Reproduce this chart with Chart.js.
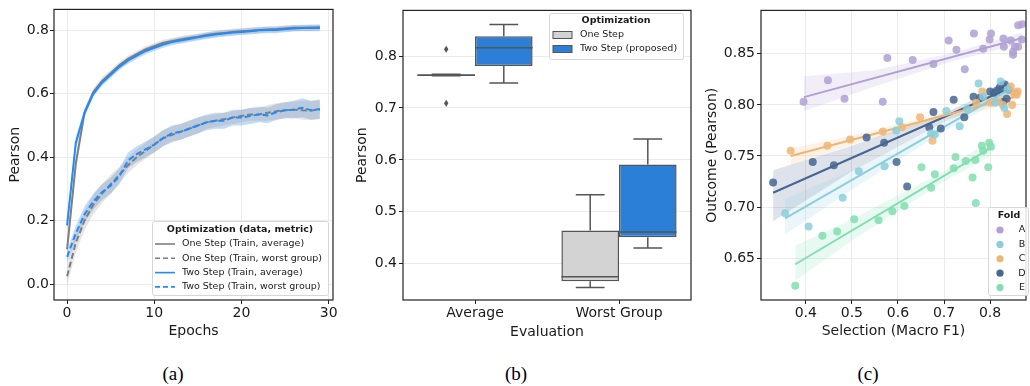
<!DOCTYPE html>
<html>
<head>
<meta charset="utf-8">
<script src="https://cdn.jsdelivr.net/npm/chart.js@4.4.0/dist/chart.umd.min.js"></script>
<style>
  body { margin: 0; background: #fff; }
  #wrap { position: relative; width: 1030px; height: 386px; background: #fff; overflow: hidden; }
  canvas { position: absolute; top: 0; }
  .cap { position: absolute; top: 363px; width: 40px; text-align: center; font-family: 'Liberation Serif', 'DejaVu Serif', serif; font-size: 19px; color: #000; }
</style>
</head>
<body>
<div id="wrap">
  <canvas id="chartA" width="345" height="345" style="left:0px"></canvas>
  <canvas id="chartB" width="350" height="345" style="left:345px"></canvas>
  <canvas id="chartC" width="340" height="345" style="left:690px"></canvas>
  <div class="cap" style="left:153px">(a)</div>
  <div class="cap" style="left:496px">(b)</div>
  <div class="cap" style="left:848px">(c)</div>
</div>
<script>
'use strict';

// ---------- panel (a) data: training curves ----------
let epochs = [0,1,2,3,4,5,6,7,8,9,10,11,12,13,14,15,16,17,18,19,20,21,22,23,24,25,26,27,28,29];
let epochTicks = [0, 10, 20, 30];
let pearsonTicksA = [0.0, 0.2, 0.4, 0.6, 0.8];

let oneStepAvg = [0.11,0.38,0.54,0.605,0.64,0.665,0.69,0.71,0.725,0.74,0.75,0.76,0.766,0.771,0.776,0.78,0.785,0.789,0.792,0.795,0.797,0.799,0.801,0.803,0.804,0.806,0.808,0.808,0.809,0.81];
let twoStepAvg = [0.185,0.445,0.54,0.60,0.635,0.66,0.685,0.705,0.72,0.735,0.745,0.755,0.763,0.768,0.773,0.778,0.783,0.787,0.79,0.793,0.795,0.797,0.80,0.801,0.801,0.804,0.806,0.807,0.807,0.807];
let oneStepWorst = [0.025,0.13,0.20,0.25,0.285,0.315,0.345,0.375,0.40,0.42,0.44,0.46,0.47,0.48,0.49,0.50,0.51,0.515,0.52,0.525,0.53,0.535,0.535,0.54,0.545,0.548,0.55,0.548,0.547,0.55];
let twoStepWorst = [0.086,0.16,0.22,0.26,0.29,0.31,0.34,0.39,0.41,0.425,0.44,0.46,0.475,0.48,0.49,0.50,0.51,0.515,0.515,0.525,0.525,0.53,0.535,0.532,0.542,0.548,0.55,0.556,0.548,0.552];

let oneStepAvgSpread = [0.03,0.03,0.015,0.012,0.012,0.011,0.011,0.01,0.01,0.01,0.01,0.01,0.01,0.01,0.01,0.01,0.01,0.01,0.01,0.01,0.01,0.01,0.01,0.01,0.01,0.01,0.01,0.01,0.01,0.01];
let twoStepAvgSpread = [0.02,0.02,0.012,0.01,0.01,0.01,0.01,0.01,0.01,0.01,0.01,0.01,0.01,0.01,0.01,0.01,0.01,0.01,0.01,0.01,0.01,0.01,0.01,0.01,0.01,0.01,0.01,0.01,0.01,0.01];
let oneStepWorstSpread = [0.03,0.03,0.03,0.03,0.03,0.03,0.025,0.025,0.025,0.025,0.025,0.025,0.025,0.025,0.025,0.025,0.02,0.02,0.02,0.02,0.02,0.02,0.02,0.025,0.025,0.025,0.025,0.03,0.03,0.03];
let twoStepWorstSpread = [0.02,0.025,0.025,0.025,0.025,0.025,0.025,0.025,0.025,0.025,0.025,0.025,0.025,0.025,0.025,0.025,0.025,0.025,0.025,0.025,0.025,0.025,0.025,0.025,0.025,0.025,0.028,0.03,0.03,0.03];

let legendA = ['One Step (Train, average)', 'One Step (Train, worst group)', 'Two Step (Train, average)', 'Two Step (Train, worst group)'];

// ---------- panel (b) data: box plots ----------
let evalGroups = ['Average', 'Worst Group'];
let pearsonTicksB = [0.4, 0.5, 0.6, 0.7, 0.8];
let oneStepQ1 = [0.762, 0.366];
let oneStepQ3 = [0.765, 0.464];
let oneStepMedian = [0.763, 0.375];
let oneStepLow = [0.762, 0.354];
let oneStepHigh = [0.765, 0.533];
let oneStepOutliers = [[0.813, 0.709], []];
let twoStepQ1 = [0.781, 0.451];
let twoStepQ3 = [0.838, 0.591];
let twoStepMedian = [0.816, 0.461];
let twoStepLow = [0.748, 0.430];
let twoStepHigh = [0.861, 0.640];
let twoStepOutliers = [[], []];
let legendB = ['One Step', 'Two Step (proposed)'];

// ---------- panel (c) data: selection vs outcome ----------
let folds = ['A', 'B', 'C', 'D', 'E'];
let selectionTicks = [0.4, 0.5, 0.6, 0.7, 0.8];
let outcomeTicks = [0.65, 0.70, 0.75, 0.80, 0.85];

let foldAx = [0.395,0.448,0.484,0.567,0.577,0.632,0.677,0.710,0.727,0.745,0.765,0.785,0.799,0.802,0.829,0.830,0.845,0.850,0.850,0.854,0.861,0.861,0.870,0.869];
let foldAy = [0.803,0.824,0.806,0.803,0.846,0.844,0.840,0.863,0.854,0.835,0.870,0.855,0.864,0.870,0.865,0.857,0.863,0.852,0.849,0.857,0.857,0.878,0.879,0.864];
let foldBx = [0.355,0.406,0.480,0.515,0.571,0.596,0.603,0.672,0.680,0.705,0.734,0.750,0.775,0.785,0.811,0.823,0.831,0.838];
let foldBy = [0.694,0.681,0.709,0.735,0.740,0.775,0.784,0.772,0.771,0.794,0.779,0.796,0.821,0.808,0.802,0.823,0.797,0.815];
let foldCx = [0.367,0.447,0.496,0.567,0.609,0.648,0.675,0.770,0.783,0.801,0.818,0.828,0.837,0.845,0.848,0.852,0.855,0.858,0.860];
let foldCy = [0.755,0.760,0.766,0.774,0.778,0.788,0.765,0.802,0.813,0.802,0.803,0.800,0.791,0.818,0.800,0.811,0.812,0.810,0.813];
let foldDx = [0.329,0.415,0.461,0.532,0.570,0.597,0.620,0.668,0.677,0.693,0.721,0.744,0.764,0.778,0.800,0.808,0.815,0.821,0.827,0.832,0.840,0.829,0.836];
let foldDy = [0.724,0.744,0.741,0.768,0.763,0.744,0.720,0.778,0.793,0.777,0.805,0.788,0.808,0.807,0.813,0.812,0.814,0.817,0.819,0.820,0.815,0.803,0.806];
let foldEx = [0.377,0.436,0.468,0.505,0.558,0.588,0.614,0.651,0.672,0.680,0.721,0.725,0.747,0.762,0.768,0.769,0.782,0.785,0.796,0.798,0.802];
let foldEy = [0.623,0.672,0.676,0.688,0.687,0.696,0.701,0.739,0.719,0.732,0.738,0.749,0.745,0.729,0.746,0.704,0.760,0.755,0.739,0.763,0.759];

let fitAx = [0.396, 0.870]; let fitAy = [0.8076, 0.8654];
let fitBx = [0.355, 0.845]; let fitBy = [0.689, 0.816];
let fitCx = [0.367, 0.855]; let fitCy = [0.750, 0.808];
let fitDx = [0.329, 0.845]; let fitDy = [0.714, 0.817];
let fitEx = [0.377, 0.802]; let fitEy = [0.644, 0.758];

let bandAx = [0.396, 0.55, 0.72, 0.870]; let bandAlo = [0.794, 0.818, 0.843, 0.860]; let bandAhi = [0.828, 0.834, 0.851, 0.871];
let bandBx = [0.355, 0.50, 0.70, 0.845]; let bandBlo = [0.673, 0.717, 0.774, 0.811]; let bandBhi = [0.708, 0.736, 0.782, 0.821];
let bandCx = [0.367, 0.50, 0.70, 0.855]; let bandClo = [0.741, 0.761, 0.786, 0.802]; let bandChi = [0.757, 0.770, 0.792, 0.814];
let bandDx = [0.329, 0.50, 0.70, 0.845]; let bandDlo = [0.686, 0.735, 0.783, 0.811]; let bandDhi = [0.736, 0.760, 0.792, 0.822];
let bandEx = [0.377, 0.50, 0.70, 0.802]; let bandElo = [0.628, 0.667, 0.725, 0.750]; let bandEhi = [0.662, 0.688, 0.735, 0.766];

// ---------- shared styling ----------
const FONT = 'DejaVu Sans';
const TXT = '#1a1a1a';
const GRID = '#ebebeb';
const tickFont = { family: FONT, size: 14 };
const titleFont = { family: FONT, size: 14 };

function pts(xs, ys) {
  return xs.map((x, i) => ({ x: x, y: ys[i] }));
}

// black box around the plot area
const framePlugin = {
  id: 'frame',
  afterDatasetsDraw(chart) {
    const a = chart.chartArea;
    const ctx = chart.ctx;
    ctx.save();
    ctx.strokeStyle = '#222';
    ctx.lineWidth = 1.2;
    ctx.strokeRect(a.left, a.top, a.right - a.left, a.bottom - a.top);
    ctx.restore();
  }
};

// matplotlib-ish legend drawn inside the axes
const legendBoxPlugin = {
  id: 'legendBox',
  afterDraw(chart, args, o) {
    if (!o || !o.items) return;
    const ctx = chart.ctx;
    ctx.save();
    ctx.fillStyle = 'rgba(255,255,255,0.85)';
    ctx.strokeStyle = '#d6d6d6';
    ctx.lineWidth = 1;
    ctx.beginPath();
    ctx.roundRect(o.x + 0.5, o.y + 0.5, o.w, o.h, 2);
    ctx.fill();
    ctx.stroke();
    ctx.fillStyle = TXT;
    ctx.font = 'bold 9.5px "' + FONT + '"';
    ctx.textAlign = 'center';
    ctx.textBaseline = 'middle';
    ctx.fillText(o.title, o.titleX, o.y + o.titleDy);
    ctx.font = '9.5px "' + FONT + '"';
    o.items.forEach((it, i) => {
      const yy = o.y + o.firstRow + i * o.rowGap;
      if (it.kind === 'line') {
        ctx.strokeStyle = it.color;
        ctx.lineWidth = 1.6;
        ctx.setLineDash(it.dash || []);
        ctx.beginPath();
        ctx.moveTo(o.x + o.markX, yy);
        ctx.lineTo(o.x + o.markX + 20, yy);
        ctx.stroke();
        ctx.setLineDash([]);
      } else if (it.kind === 'rect') {
        ctx.fillStyle = it.color;
        ctx.strokeStyle = '#555';
        ctx.lineWidth = 1;
        ctx.fillRect(o.x + o.markX, yy - 3.5, 19, 7);
        ctx.strokeRect(o.x + o.markX, yy - 3.5, 19, 7);
      } else {
        ctx.fillStyle = it.color;
        ctx.beginPath();
        ctx.arc(o.x + o.markX, yy, 3.6, 0, Math.PI * 2);
        ctx.fill();
      }
      ctx.fillStyle = TXT;
      ctx.textAlign = o.textAlign || 'left';
      ctx.fillText(it.label, o.x + o.textX, yy);
    });
    ctx.restore();
  }
};

// ---------- panel (a) ----------
const gray = '#7f7f7f';
const blue = '#1f8bff';
const grayBand = 'rgba(150,150,150,0.25)';
const blueBand = 'rgba(90,150,220,0.35)';

function bandSets(values, spread, color) {
  return [
    { data: pts(epochs, values.map((v, i) => v - spread[i])), borderWidth: 0, pointRadius: 0, fill: false, order: 2 },
    { data: pts(epochs, values.map((v, i) => v + spread[i])), borderWidth: 0, pointRadius: 0, fill: '-1', backgroundColor: color, order: 2 }
  ];
}

new Chart(document.getElementById('chartA'), {
  type: 'line',
  data: {
    datasets: [
      ...bandSets(oneStepAvg, oneStepAvgSpread, grayBand),
      ...bandSets(oneStepWorst, oneStepWorstSpread, grayBand),
      ...bandSets(twoStepAvg, twoStepAvgSpread, blueBand),
      ...bandSets(twoStepWorst, twoStepWorstSpread, blueBand),
      { label: legendA[2], data: pts(epochs, twoStepAvg), borderColor: blue, borderWidth: 2, pointRadius: 0, order: 0 },
      { label: legendA[3], data: pts(epochs, twoStepWorst), borderColor: blue, borderWidth: 2, borderDash: [6, 3], pointRadius: 0, order: 0 },
      { label: legendA[0], data: pts(epochs, oneStepAvg), borderColor: gray, borderWidth: 2, pointRadius: 0, order: 1 },
      { label: legendA[1], data: pts(epochs, oneStepWorst), borderColor: gray, borderWidth: 2, borderDash: [6, 3], pointRadius: 0, order: 1 }
    ]
  },
  options: {
    responsive: false,
    animation: false,
    layout: { padding: { left: 0, right: 12, top: 7, bottom: 0 } },
    plugins: {
      legend: { display: false },
      tooltip: { enabled: false },
      legendBox: {
        x: 152, y: 221, w: 176, h: 74, title: 'Optimization (data, metric)', titleX: 240, titleDy: 9,
        firstRow: 23, rowGap: 14.3, markX: 3, textX: 30,
        items: [
          { label: legendA[0], kind: 'line', color: gray },
          { label: legendA[1], kind: 'line', color: gray, dash: [5, 3] },
          { label: legendA[2], kind: 'line', color: blue },
          { label: legendA[3], kind: 'line', color: blue, dash: [5, 3] }
        ]
      }
    },
    scales: {
      x: {
        type: 'linear', min: -1.5, max: 30.5,
        afterBuildTicks: s => { s.ticks = epochTicks.map(v => ({ value: v })); },
        afterFit: s => { s.height = 45; },
        grid: { color: GRID, tickLength: 4, tickColor: '#222' },
        border: { display: false },
        ticks: { font: tickFont, color: TXT, padding: 1, maxRotation: 0 },
        title: { display: true, text: 'Epochs', font: titleFont, color: TXT, padding: { top: 0, bottom: 5 } }
      },
      y: {
        type: 'linear', min: -0.05, max: 0.866,
        afterBuildTicks: s => { s.ticks = pearsonTicksA.map(v => ({ value: v })); },
        afterFit: s => { s.width = 54; },
        grid: { color: GRID, tickLength: 4, tickColor: '#222' },
        border: { display: false },
        ticks: { font: tickFont, color: TXT, padding: 1, callback: v => v.toFixed(1) },
        title: { display: true, text: 'Pearson', font: titleFont, color: TXT, padding: { top: 7, bottom: 0 } }
      }
    }
  },
  plugins: [framePlugin, legendBoxPlugin]
});

// ---------- panel (b) ----------
const boxGray = '#d3d3d3';
const boxBlue = '#2b7fd6';
const edge = '#555555';

const boxStats = [
  { q1: oneStepQ1, q3: oneStepQ3, med: oneStepMedian, lo: oneStepLow, hi: oneStepHigh, out: oneStepOutliers },
  { q1: twoStepQ1, q3: twoStepQ3, med: twoStepMedian, lo: twoStepLow, hi: twoStepHigh, out: twoStepOutliers }
];

const whiskerPlugin = {
  id: 'whiskers',
  afterDatasetsDraw(chart) {
    const ys = chart.scales.y;
    const ctx = chart.ctx;
    ctx.save();
    ctx.strokeStyle = edge;
    ctx.lineWidth = 1.5;
    boxStats.forEach((st, di) => {
      chart.getDatasetMeta(di).data.forEach((bar, j) => {
        const cx = bar.x;
        const half = bar.width / 2;
        const yq1 = ys.getPixelForValue(st.q1[j]);
        const yq3 = ys.getPixelForValue(st.q3[j]);
        const ylo = ys.getPixelForValue(st.lo[j]);
        const yhi = ys.getPixelForValue(st.hi[j]);
        const ymed = ys.getPixelForValue(st.med[j]);
        ctx.beginPath();
        ctx.moveTo(cx, yq3); ctx.lineTo(cx, yhi);
        ctx.moveTo(cx, yq1); ctx.lineTo(cx, ylo);
        ctx.moveTo(cx - half / 2, yhi); ctx.lineTo(cx + half / 2, yhi);
        ctx.moveTo(cx - half / 2, ylo); ctx.lineTo(cx + half / 2, ylo);
        ctx.moveTo(cx - half, ymed); ctx.lineTo(cx + half, ymed);
        ctx.stroke();
        ctx.fillStyle = edge;
        st.out[j].forEach(v => {
          const py = ys.getPixelForValue(v);
          ctx.beginPath();
          ctx.moveTo(cx, py - 3.5); ctx.lineTo(cx + 2.2, py);
          ctx.lineTo(cx, py + 3.5); ctx.lineTo(cx - 2.2, py);
          ctx.closePath();
          ctx.fill();
        });
      });
    });
    ctx.restore();
  }
};

new Chart(document.getElementById('chartB'), {
  type: 'bar',
  data: {
    labels: evalGroups,
    datasets: [
      { label: legendB[0], data: evalGroups.map((g, i) => [oneStepQ1[i], oneStepQ3[i]]), backgroundColor: boxGray, borderColor: edge, borderWidth: 1.5, borderSkipped: false, barPercentage: 1, categoryPercentage: 0.8 },
      { label: legendB[1], data: evalGroups.map((g, i) => [twoStepQ1[i], twoStepQ3[i]]), backgroundColor: boxBlue, borderColor: edge, borderWidth: 1.5, borderSkipped: false, barPercentage: 1, categoryPercentage: 0.8 }
    ]
  },
  options: {
    responsive: false,
    animation: false,
    layout: { padding: { left: 0, right: 4, top: 7, bottom: 0 } },
    plugins: {
      legend: { display: false },
      tooltip: { enabled: false },
      legendBox: {
        x: 204, y: 13, w: 134, h: 46, title: 'Optimization', titleX: 271, titleDy: 8,
        firstRow: 22, rowGap: 14, markX: 4, textX: 31,
        items: [
          { label: legendB[0], kind: 'rect', color: boxGray },
          { label: legendB[1], kind: 'rect', color: boxBlue }
        ]
      }
    },
    scales: {
      x: {
        afterFit: s => { s.height = 45; },
        grid: { display: true, drawOnChartArea: false, offset: false, tickLength: 4, tickColor: '#222' },
        border: { display: false },
        ticks: { font: tickFont, color: TXT, padding: 1, maxRotation: 0 },
        title: { display: true, text: 'Evaluation', font: titleFont, color: TXT, padding: { top: 0, bottom: 4 } }
      },
      y: {
        type: 'linear', min: 0.33, max: 0.888,
        afterBuildTicks: s => { s.ticks = pearsonTicksB.map(v => ({ value: v })); },
        afterFit: s => { s.width = 58; },
        grid: { color: GRID, tickLength: 4, tickColor: '#222' },
        border: { display: false },
        ticks: { font: tickFont, color: TXT, padding: 2, callback: v => v.toFixed(1) },
        title: { display: true, text: 'Pearson', font: titleFont, color: TXT, padding: { top: 9, bottom: 0 } }
      }
    }
  },
  plugins: [whiskerPlugin, framePlugin, legendBoxPlugin]
});

// ---------- panel (c) ----------
const foldColors = ['rgb(176,160,212)', 'rgb(140,206,220)', 'rgb(238,182,118)', 'rgb(70,102,146)', 'rgb(130,222,176)'];
const foldBands = ['rgba(176,160,212,0.18)', 'rgba(140,206,220,0.18)', 'rgba(238,182,118,0.18)', 'rgba(70,102,146,0.18)', 'rgba(130,222,176,0.18)'];
const foldPoints = [[foldAx, foldAy], [foldBx, foldBy], [foldCx, foldCy], [foldDx, foldDy], [foldEx, foldEy]];
const foldFits = [[fitAx, fitAy], [fitBx, fitBy], [fitCx, fitCy], [fitDx, fitDy], [fitEx, fitEy]];
const foldCIs = [[bandAx, bandAlo, bandAhi], [bandBx, bandBlo, bandBhi], [bandCx, bandClo, bandChi], [bandDx, bandDlo, bandDhi], [bandEx, bandElo, bandEhi]];

let datasetsC = [];
folds.forEach((f, i) => {
  datasetsC.push({ type: 'line', data: pts(foldCIs[i][0], foldCIs[i][1]), borderWidth: 0, pointRadius: 0, fill: false, order: 3 });
  datasetsC.push({ type: 'line', data: pts(foldCIs[i][0], foldCIs[i][2]), borderWidth: 0, pointRadius: 0, fill: '-1', backgroundColor: foldBands[i], order: 3 });
});
folds.forEach((f, i) => {
  datasetsC.push({ type: 'scatter', label: f, data: pts(foldPoints[i][0], foldPoints[i][1]), backgroundColor: foldColors[i].replace('rgb', 'rgba').replace(')', ',0.85)'), borderWidth: 0, pointRadius: 4, order: 1 });
  datasetsC.push({ type: 'line', data: pts(foldFits[i][0], foldFits[i][1]), borderColor: foldColors[i], borderWidth: 2, pointRadius: 0, fill: false, order: 2 });
});

new Chart(document.getElementById('chartC'), {
  type: 'scatter',
  data: { datasets: datasetsC },
  options: {
    responsive: false,
    animation: false,
    layout: { padding: { left: 0, right: 3, top: 7, bottom: 0 } },
    plugins: {
      legend: { display: false },
      tooltip: { enabled: false },
      legendBox: {
        x: 298, y: 207, w: 40, h: 88, title: 'Fold', titleX: 319, titleDy: 9,
        firstRow: 23, rowGap: 14.4, markX: 12, textX: 34, textAlign: 'center',
        items: folds.map((f, i) => ({ label: f, kind: 'dot', color: foldColors[i] }))
      }
    },
    scales: {
      x: {
        type: 'linear', min: 0.3027, max: 0.878,
        afterBuildTicks: s => { s.ticks = selectionTicks.map(v => ({ value: v })); },
        afterFit: s => { s.height = 45; },
        grid: { color: GRID, tickLength: 4, tickColor: '#222' },
        border: { display: false },
        ticks: { font: tickFont, color: TXT, padding: 1, maxRotation: 0, callback: v => v.toFixed(1) },
        title: { display: true, text: 'Selection (Macro F1)', font: titleFont, color: TXT, padding: { top: 0, bottom: 5 } }
      },
      y: {
        type: 'linear', min: 0.609, max: 0.8925,
        afterBuildTicks: s => { s.ticks = outcomeTicks.map(v => ({ value: v })); },
        afterFit: s => { s.width = 71; },
        grid: { color: GRID, tickLength: 4, tickColor: '#222' },
        border: { display: false },
        ticks: { font: tickFont, color: TXT, padding: 2, callback: v => v.toFixed(2) },
        title: { display: true, text: 'Outcome (Pearson)', font: titleFont, color: TXT, padding: { top: 14, bottom: 0 } }
      }
    }
  },
  plugins: [framePlugin, legendBoxPlugin]
});
</script>
</body>
</html>
